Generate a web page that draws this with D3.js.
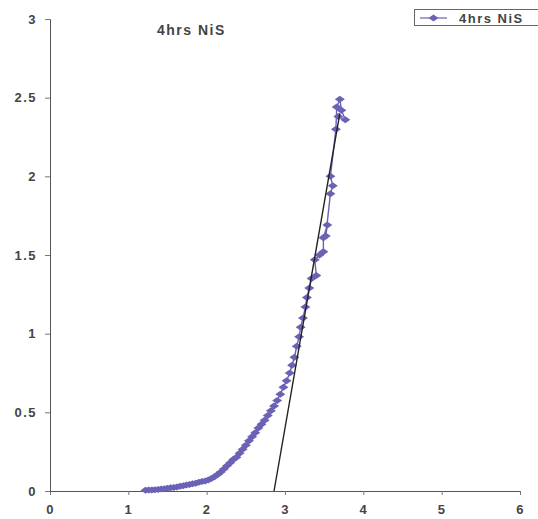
<!DOCTYPE html>
<html>
<head>
    <meta charset="utf-8">
    <script src="https://d3js.org/d3.v7.min.js"></script>
    <style>
        body {
            margin: 0;
            background: #fff;
        }
        svg text {
            font-family: "Liberation Sans", Arial, sans-serif;
            fill: #444;
            font-weight: bold;
            letter-spacing: 1.5px;
        }
    </style>
</head>
<body>
    <svg id="chart" width="538" height="519"></svg>
    <script>
        // measured points, 4hrs NiS
        var xVals = [1.22, 1.26, 1.30, 1.34, 1.38, 1.42, 1.46, 1.50, 1.54, 1.58,
                     1.62, 1.66, 1.70, 1.74, 1.78, 1.82, 1.86, 1.90, 1.94, 1.98,
                     2.02, 2.06, 2.10, 2.14, 2.18, 2.22, 2.26, 2.30, 2.34, 2.38,
                     2.42, 2.46, 2.50, 2.54, 2.58, 2.62, 2.66, 2.70, 2.74, 2.78,
                     2.82, 2.86, 2.90, 2.94, 2.98, 3.02, 3.06, 3.09, 3.12, 3.15,
                     3.18, 3.20, 3.23, 3.26, 3.28, 3.31, 3.34, 3.40, 3.38, 3.44,
                     3.49, 3.49, 3.54, 3.52, 3.58, 3.61, 3.58, 3.65, 3.66, 3.70,
                     3.72, 3.77, 3.68];
        var yVals = [0.004, 0.006, 0.007, 0.008, 0.010, 0.012, 0.014, 0.017, 0.020, 0.023,
                     0.026, 0.030, 0.034, 0.038, 0.042, 0.046, 0.050, 0.055, 0.060, 0.064,
                     0.070, 0.080, 0.090, 0.105, 0.120, 0.140, 0.160, 0.180, 0.200, 0.215,
                     0.240, 0.265, 0.290, 0.320, 0.345, 0.370, 0.400, 0.425, 0.450, 0.480,
                     0.510, 0.540, 0.575, 0.615, 0.660, 0.700, 0.750, 0.800, 0.850, 0.920,
                     0.980, 1.040, 1.100, 1.170, 1.230, 1.290, 1.350, 1.370, 1.470, 1.500,
                     1.520, 1.610, 1.690, 1.620, 1.890, 1.940, 2.000, 2.300, 2.440, 2.490,
                     2.420, 2.360, 2.380];
        // straight fit line drawn on the plot
        var fitX = [2.86, 3.70];
        var fitY = [0, 2.40];
        var xTicks = [0, 1, 2, 3, 4, 5, 6];
        var yTicks = [0, 0.5, 1, 1.5, 2, 2.5, 3];
        var seriesName = "4hrs NiS";

        var svg = d3.select("#chart");
        var x = d3.scaleLinear().domain([0, 6]).range([50, 520]);
        var y = d3.scaleLinear().domain([0, 3]).range([491, 19]);
        var markColor = "#6a62b4";
        var diamond = "M-5,0L0,-3.5L5,0L0,3.5Z";

        var xAxis = svg.append("g")
            .attr("transform", "translate(0," + y(0) + ")")
            .call(d3.axisBottom(x).tickValues(xTicks).tickSize(4).tickPadding(10)
                .tickFormat(d3.format("d")));
        var yAxis = svg.append("g")
            .attr("transform", "translate(" + x(0) + ",0)")
            .call(d3.axisLeft(y).tickValues(yTicks).tickSize(5).tickPadding(8)
                .tickFormat(function(d) { return d; }));
        [xAxis, yAxis].forEach(function(a) {
            a.select(".domain").attr("stroke", "#555");
            a.selectAll(".tick line").attr("stroke", "#777");
            a.selectAll(".tick text").attr("font-size", 13).attr("fill", "#444");
        });

        var pts = xVals.map(function(v, i) { return [v, yVals[i]]; });

        svg.append("path")
            .datum(pts)
            .attr("fill", "none")
            .attr("stroke", markColor)
            .attr("stroke-width", 1.4)
            .attr("d", d3.line().x(function(d) { return x(d[0]); }).y(function(d) { return y(d[1]); }));

        svg.selectAll(".pt")
            .data(pts)
            .enter().append("path")
            .attr("class", "pt")
            .attr("transform", function(d) { return "translate(" + x(d[0]) + "," + y(d[1]) + ")"; })
            .attr("d", diamond)
            .attr("fill", markColor);

        svg.append("line")
            .attr("x1", x(fitX[0])).attr("y1", y(fitY[0]))
            .attr("x2", x(fitX[1])).attr("y2", y(fitY[1]))
            .attr("stroke", "#222")
            .attr("stroke-width", 1.4);

        svg.append("text")
            .attr("x", 157).attr("y", 35)
            .attr("font-size", 14)
            .text(seriesName);

        var lg = svg.append("g");
        lg.append("rect")
            .attr("x", 414.5).attr("y", 9.5).attr("width", 130).attr("height", 16)
            .attr("fill", "#fff").attr("stroke", "#666");
        lg.append("line")
            .attr("x1", 420).attr("x2", 447).attr("y1", 18).attr("y2", 18)
            .attr("stroke", markColor).attr("stroke-width", 1.2);
        lg.append("path")
            .attr("transform", "translate(433.5,18)")
            .attr("d", diamond)
            .attr("fill", markColor);
        lg.append("text")
            .attr("x", 459).attr("y", 22.5)
            .attr("font-size", 13)
            .text(seriesName);
    </script>
</body>
</html>
